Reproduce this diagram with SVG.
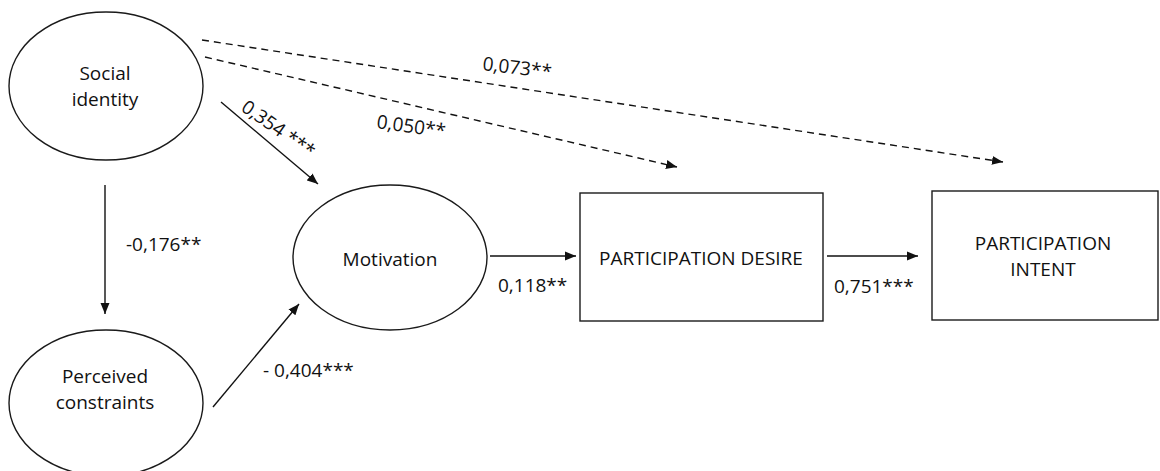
<svg xmlns="http://www.w3.org/2000/svg" width="1160" height="471" viewBox="0 0 1160 471">
<style>
  .shape { fill: #ffffff; stroke: #1a1a1a; stroke-width: 1.4; }
  .lbl { font-family: "Open Sans", "Liberation Sans", sans-serif; font-size: 19px; fill: #111111; }
  .mid { text-anchor: middle; }
  .conn { stroke: #111111; stroke-width: 1.4; fill: none; marker-end: url(#arrow); }
  .dash { stroke-dasharray: 7 5; }
</style>
<defs>
  <marker id="arrow" markerUnits="userSpaceOnUse" markerWidth="12" markerHeight="10" refX="11" refY="5" orient="auto">
    <path d="M0,0.5 L11,5 L0,9.5 Z" fill="#111111"/>
  </marker>
</defs>
<rect width="1160" height="471" fill="#ffffff"/>

<g id="connectors">
  <line class="conn dash" x1="202" y1="40" x2="1003" y2="162"/>
  <line class="conn dash" x1="205" y1="57" x2="677" y2="167"/>
  <line class="conn" x1="221" y1="102" x2="318" y2="184"/>
  <line class="conn" x1="105" y1="185" x2="105" y2="314"/>
  <line class="conn" x1="213" y1="407" x2="299" y2="304"/>
  <line class="conn" x1="490" y1="256" x2="576" y2="256"/>
  <line class="conn" x1="827" y1="256" x2="918" y2="256"/>
  <text class="lbl" x="482" y="70" transform="rotate(7 482 70)">0,073**</text>
  <text class="lbl" x="376" y="128" transform="rotate(8 376 128)">0,050**</text>
  <text class="lbl" x="240" y="110" transform="rotate(35 240 110)">0,354 ***</text>
  <text class="lbl" x="126" y="251">-0,176**</text>
  <text class="lbl" x="263" y="377">- 0,404***</text>
  <text class="lbl" x="498" y="292">0,118**</text>
  <text class="lbl" x="834" y="293">0,751***</text>
</g>

<g id="social-identity">
  <ellipse class="shape" cx="106" cy="86" rx="97" ry="74"/>
  <text class="lbl mid" x="105" y="80">Social</text>
  <text class="lbl mid" x="105" y="106">identity</text>
</g>

<g id="perceived-constraints">
  <ellipse class="shape" cx="106" cy="403" rx="97" ry="73"/>
  <text class="lbl mid" x="105" y="383">Perceived</text>
  <text class="lbl mid" x="105" y="409">constraints</text>
</g>

<g id="motivation">
  <ellipse class="shape" cx="390" cy="257.5" rx="97" ry="72.5"/>
  <text class="lbl mid" x="390" y="266">Motivation</text>
</g>

<g id="participation-desire">
  <rect class="shape" x="580" y="193" width="243" height="128"/>
  <text class="lbl mid" x="701" y="265">PARTICIPATION DESIRE</text>
</g>

<g id="participation-intent">
  <rect class="shape" x="932" y="191" width="226" height="129"/>
  <text class="lbl mid" x="1043" y="250">PARTICIPATION</text>
  <text class="lbl mid" x="1043" y="276">INTENT</text>
</g>
</svg>
